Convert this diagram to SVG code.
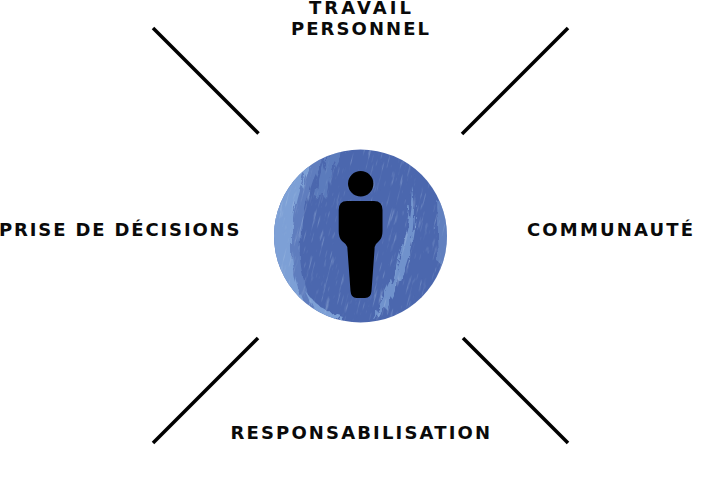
<svg xmlns="http://www.w3.org/2000/svg" width="720" height="495" viewBox="0 0 720 495">
<style>
.l{font-family:"DejaVu Sans","Liberation Sans",sans-serif;font-weight:700;font-size:18px;fill:#0a0a0a}
.c{stroke:#000;stroke-width:3.6;fill:none}
.lt{fill:#7da0d6}
</style>
<defs>
<clipPath id="disc"><circle cx="360.5" cy="236" r="86.5"/></clipPath>
<filter id="rough" x="-20%" y="-20%" width="140%" height="140%">
<feTurbulence type="fractalNoise" baseFrequency="0.25 0.05" numOctaves="3" seed="7" result="n"/>
<feDisplacementMap in="SourceGraphic" in2="n" scale="9"/>
</filter>
<filter id="grain" x="0" y="0" width="100%" height="100%">
<feTurbulence type="fractalNoise" baseFrequency="0.45 0.05" numOctaves="3" seed="4"/>
<feColorMatrix values="0 0 0 0 0.49  0 0 0 0 0.63  0 0 0 0 0.84  0 0 0 5 -3"/>
<feComposite in2="SourceGraphic" operator="in"/>
</filter>
</defs>
<rect width="720" height="495" fill="#fff"/>
<g id="connectors">
<line class="c" x1="153" y1="28" x2="258.500" y2="133.500"/>
<line class="c" x1="568" y1="28" x2="462" y2="134"/>
<line class="c" x1="258" y1="338" x2="153" y2="443"/>
<line class="c" x1="463" y1="338" x2="568" y2="443"/>
</g>
<g id="center">
<circle cx="360.500" cy="236" r="86.500" fill="#4b67ae"/>
<g clip-path="url(#disc)">
<path class="lt" d="M270 320V150H328C312 175 304 205 300 240C298 270 306 295 324 323Z" opacity="0.4" filter="url(#rough)"/>
<path class="lt" d="M268 325V150H318C301 180 294 205 292 240C291 270 298 300 318 325Z" filter="url(#rough)"/>
<path class="lt" d="M306 292C316 305 326 312 342 316L336 322L318 318Z" filter="url(#rough)"/>
<path class="lt" d="M412 186C420 220 412 268 382 314L372 318C394 282 410 240 412 186Z" opacity="0.75" filter="url(#rough)"/>
<path class="lt" d="M330 150C322 165 318 180 316 198L326 196C330 178 336 162 344 150Z" opacity="0.35" filter="url(#rough)"/>
<path class="lt" d="M436 200L450 205V270L438 262Z" opacity="0.45" filter="url(#rough)"/>
<rect x="240" y="120" width="240" height="230" class="lt" filter="url(#grain)" opacity="0.3" transform="rotate(14 360 236)"/>
</g>
<circle cx="360.700" cy="183.700" r="12.700" fill="#000"/>
<path d="M347 201H374Q382.500 201 382.500 210V231Q382.500 238 379 241L376 244Q374.500 246 374.500 250L371.500 291Q371 298 365 298H356.500Q351 298 350.500 291L347.500 250Q347.500 246 345.500 244L342 241Q338.700 238 338.700 231V210Q338.700 201 347 201Z" fill="#000"/>
</g>
<g id="travail-personnel">
<text class="l" x="309" y="14" textLength="102" lengthAdjust="spacing">TRAVAIL</text>
<text class="l" x="291" y="35" textLength="138" lengthAdjust="spacing">PERSONNEL</text>
</g>
<g id="prise-de-decisions"><text class="l" x="-1" y="236" textLength="240.500" lengthAdjust="spacing">PRISE DE DÉCISIONS</text></g>
<g id="communaute"><text class="l" x="527" y="236" textLength="166" lengthAdjust="spacing">COMMUNAUTÉ</text></g>
<g id="responsabilisation"><text class="l" x="230.500" y="439" textLength="259.500" lengthAdjust="spacing">RESPONSABILISATION</text></g>
</svg>
